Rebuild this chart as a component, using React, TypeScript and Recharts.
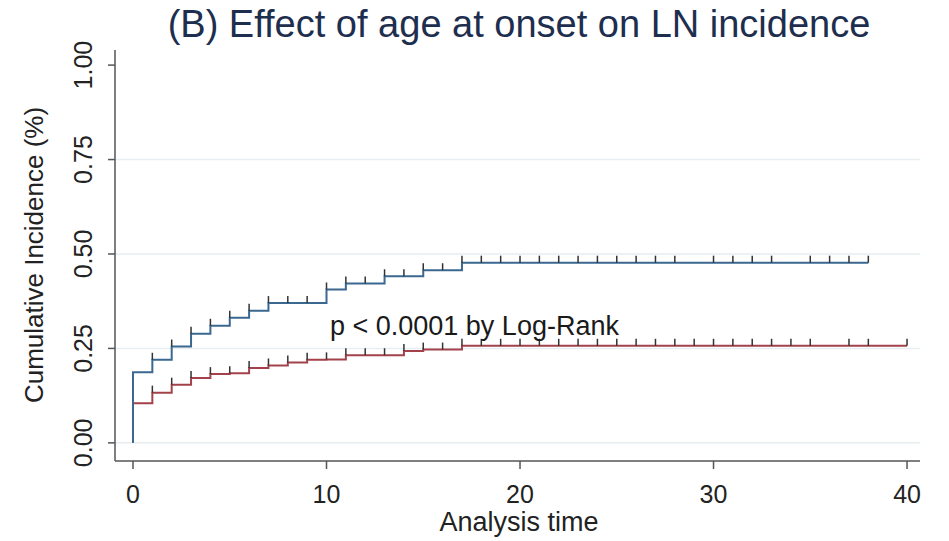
import React from 'react';
import { ComposedChart, Line, XAxis, YAxis, ReferenceLine, ReferenceDot } from 'recharts';

// analysis time (years), one point per year
const times = [0, 1, 2, 3, 4, 5, 6, 7, 8, 9, 10, 11, 12, 13, 14, 15, 16, 17, 18, 19, 20,
  21, 22, 23, 24, 25, 26, 27, 28, 29, 30, 31, 32, 33, 34, 35, 36, 37, 38, 39, 40];

// cumulative incidence, blue group (t = 0..38)
const blueInc = [0.187, 0.220, 0.255, 0.289, 0.310, 0.331, 0.350, 0.370, 0.370, 0.370,
  0.406, 0.422, 0.422, 0.441, 0.441, 0.457, 0.457, 0.477, 0.477, 0.477, 0.477, 0.477,
  0.477, 0.477, 0.477, 0.477, 0.477, 0.477, 0.477, 0.477, 0.477, 0.477, 0.477, 0.477,
  0.477, 0.477, 0.477, 0.477, 0.477];

// cumulative incidence, red group (t = 0..40)
const redInc = [0.105, 0.133, 0.154, 0.172, 0.182, 0.184, 0.198, 0.205, 0.213, 0.220,
  0.221, 0.232, 0.232, 0.232, 0.243, 0.247, 0.247, 0.257, 0.257, 0.257, 0.257, 0.257,
  0.257, 0.257, 0.257, 0.257, 0.257, 0.257, 0.257, 0.257, 0.257, 0.257, 0.257, 0.257,
  0.257, 0.257, 0.257, 0.257, 0.257, 0.257, 0.257];

// censoring marks
const blueCensored = [1, 2, 3, 4, 5, 6, 7, 8, 9, 10, 11, 12, 13, 14, 15, 16, 17, 18, 19, 20,
  21, 22, 23, 24, 25, 26, 27, 28, 30, 31, 32, 33, 35, 36, 37, 38];
const redCensored = [1, 2, 3, 4, 5, 6, 7, 8, 9, 10, 11, 12, 13, 14, 15, 16, 17, 18, 19, 20,
  21, 22, 23, 24, 25, 26, 27, 28, 29, 30, 31, 32, 33, 34, 35, 37, 38, 40];

const xTicks = [0, 10, 20, 30, 40];
const yTicks = [0, 0.25, 0.5, 0.75, 1];
const gridTicks = [0, 0.25, 0.5, 0.75];

const build = (vals: number[], cens: number[]) => [
  { t: 0, v: 0, c: false },
  ...vals.map((v, i) => ({ t: times[i], v, c: cens.includes(times[i]) })),
];

const blueData = build(blueInc, blueCensored);
const redData = build(redInc, redCensored);

const FONT = 'Liberation Sans, Arial, sans-serif';
const BLUE = '#3A6890';
const RED = '#A3424A';

const censorDot = (props: any) => {
  const { cx, cy, payload, index } = props;
  if (!payload || !payload.c) return <g key={'d' + index} />;
  return <line key={'d' + index} x1={cx} y1={cy} x2={cx} y2={cy - 7} stroke="#333" strokeWidth={1.5} />;
};

const YTick = (props: any) => {
  const { y, payload } = props;
  return (
    <text x={0} y={0} transform={`translate(92, ${y}) rotate(-90)`} textAnchor="middle"
      fontSize={25} fontFamily={FONT} fill="#222">
      {payload.value.toFixed(2)}
    </text>
  );
};

const XTick = (props: any) => {
  const { x, payload } = props;
  return (
    <text x={x} y={503} textAnchor="middle" fontSize={25} fontFamily={FONT} fill="#222">
      {payload.value}
    </text>
  );
};

export default function App() {
  return (
    <div style={{ position: 'absolute', left: 0, top: 0, width: 949, height: 541 }}>
      <ComposedChart width={949} height={541} margin={{ top: 50, right: 29, bottom: 40, left: 75 }}>
        {gridTicks.map((g) => (
          <ReferenceLine key={g} y={g} stroke="#E6EEF1" strokeWidth={1.5} />
        ))}
        <XAxis type="number" dataKey="t" domain={[-0.93, 40.67]} ticks={xTicks} allowDataOverflow
          height={40} tickSize={8} tick={<XTick />} stroke="#555" strokeWidth={1.5}
          tickLine={{ stroke: '#555', strokeWidth: 1.5 }} />
        <YAxis type="number" domain={[-0.048, 1.04]} ticks={yTicks} allowDataOverflow
          width={40} tickSize={7} tick={<YTick />} stroke="#555" strokeWidth={1.5}
          tickLine={{ stroke: '#555', strokeWidth: 1.5 }} />
        <Line data={redData} dataKey="v" type="stepAfter" stroke={RED} strokeWidth={2}
          dot={censorDot} activeDot={false} isAnimationActive={false} />
        <Line data={blueData} dataKey="v" type="stepAfter" stroke={BLUE} strokeWidth={2}
          dot={censorDot} activeDot={false} isAnimationActive={false} />
        <ReferenceDot x={10.18} y={0.286} r={0}
          shape={(p: any) => (
            <text x={p.cx} y={p.cy} fontSize={27} fontFamily={FONT} fill="#1a1a1a">
              p &lt; 0.0001 by Log-Rank
            </text>
          )} />
      </ComposedChart>
      <svg width={949} height={541} style={{ position: 'absolute', left: 0, top: 0, pointerEvents: 'none' }}>
        <text x={519} y={37} textAnchor="middle" fontSize={38} fontFamily={FONT} fill="#1E2E4E">
          (B) Effect of age at onset on LN incidence
        </text>
        <text x={519} y={531} textAnchor="middle" fontSize={27} fontFamily={FONT} fill="#222">
          Analysis time
        </text>
        <text x={0} y={0} transform="translate(43, 255) rotate(-90)" textAnchor="middle"
          fontSize={26} fontFamily={FONT} fill="#222">
          Cumulative Incidence (%)
        </text>
      </svg>
    </div>
  );
}
